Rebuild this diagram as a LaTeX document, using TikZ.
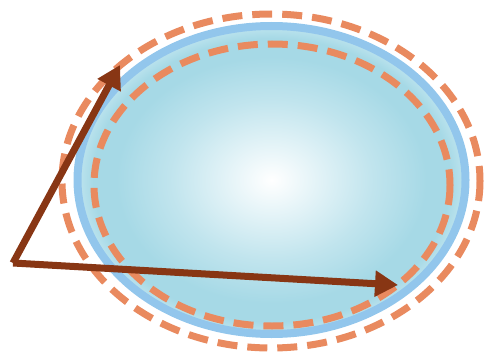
\documentclass[tikz,border=0pt]{standalone}
\usetikzlibrary{arrows.meta}
\definecolor{ringblue}{RGB}{146,198,236}
\definecolor{ballblue}{RGB}{166,217,230}
\definecolor{balledge}{RGB}{190,228,238}
\definecolor{dashorange}{RGB}{233,138,95}
\definecolor{arrowbrown}{RGB}{136,54,20}
\pgfdeclareradialshading{ballshade}{\pgfpoint{0bp}{0bp}}{%
  color(0bp)=(white); color(13bp)=(ballblue!70!white); color(20bp)=(ballblue);
  color(23bp)=(ballblue); color(25bp)=(balledge); color(50bp)=(balledge)}
\begin{document}
\begin{tikzpicture}[x=1pt,y=-1pt,
		dashring/.style={dashorange,line width=7pt,dash pattern=on 20pt off 10pt},
		vec/.style={-{Triangle[length=23pt,width=25pt]},arrowbrown,line width=7pt}]
		\useasboundingbox (0,0) rectangle (484,353);
		
		\draw[ringblue,line width=8pt,shading=ballshade] (271.5,180) ellipse [x radius=194, y radius=154];
		
		\draw[dashring] (271,181) ellipse [x radius=209, y radius=167];
		\draw[dashring] (272,185) ellipse [x radius=178, y radius=141];
		
		\coordinate (apex) at (13,263);
		\coordinate (tipup) at (120,65);
		\coordinate (tipright) at (398,285);
		\draw[vec] (apex) -- (tipup);
		\draw[vec] (apex) -- (tipright);
\end{tikzpicture}
\end{document}
